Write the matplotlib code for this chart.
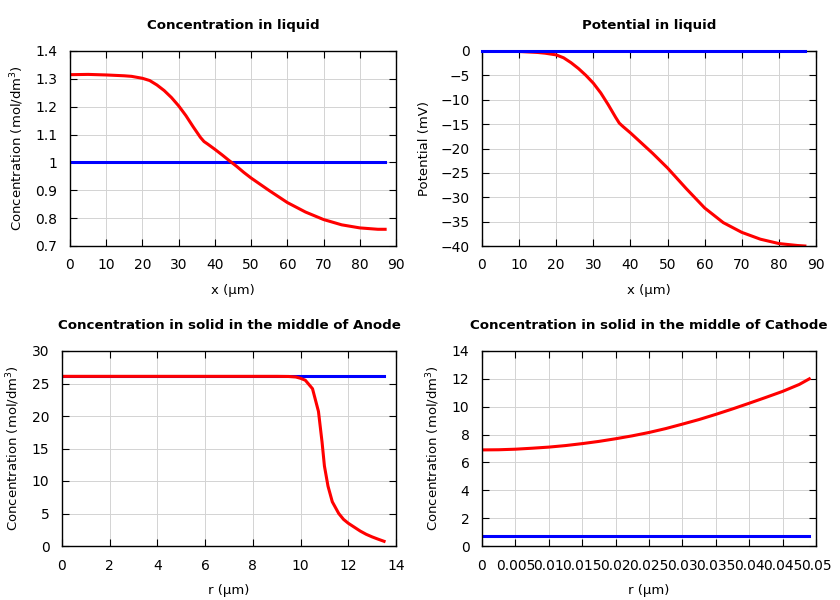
import matplotlib
matplotlib.use("Agg")
import matplotlib.pyplot as plt

# Concentration in liquid
x_liq = [0, 5, 10, 15, 17, 20, 22, 24, 26, 28, 30, 32, 34, 36, 37, 38, 40, 42, 44, 46, 48, 50,
         55, 60, 65, 70, 75, 80, 85, 87]
c_liq_red = [1.315, 1.316, 1.314, 1.311, 1.309, 1.302, 1.294, 1.278, 1.258, 1.233, 1.203, 1.168,
             1.128, 1.09, 1.075, 1.066, 1.047, 1.027, 1.006, 0.986, 0.964, 0.944,
             0.899, 0.856, 0.822, 0.795, 0.776, 0.765, 0.76, 0.76]
c_liq_blue = [1.0] * len(x_liq)

# Potential in liquid
phi_red = [0, -0.05, -0.1, -0.3, -0.45, -0.8, -1.4, -2.4, -3.6, -5.0, -6.6, -8.6,
           -11.0, -13.6, -14.8, -15.5, -16.8, -18.2, -19.6, -21.0, -22.5, -24.0,
           -28.2, -32.2, -35.2, -37.2, -38.6, -39.5, -39.9, -40.0]
phi_blue = [0.0] * len(x_liq)

# Anode solid
r_an = [0.05, 2, 4, 6, 8, 9, 9.5, 9.8, 10.0, 10.2, 10.5, 10.75, 10.9, 11.0, 11.15, 11.33, 11.6,
        11.8, 12.0, 12.25, 12.5, 12.75, 13.0, 13.25, 13.5]
c_an_red = [26.1, 26.1, 26.1, 26.1, 26.1, 26.1, 26.08, 26.0, 25.8, 25.5, 24.2, 20.7, 16.0, 12.3,
            9.2, 6.8, 5.0, 4.1, 3.5, 2.9, 2.3, 1.8, 1.4, 1.05, 0.72]
c_an_blue = [26.1] * len(r_an)

# Cathode solid
r_ca = [0.0002, 0.0025, 0.005, 0.0075, 0.01, 0.0125, 0.015, 0.0175, 0.02, 0.0225, 0.025, 0.0275,
        0.03, 0.0325, 0.035, 0.0375, 0.04, 0.0425, 0.045, 0.0475, 0.049]
c_ca_red = [6.9, 6.91, 6.95, 7.02, 7.1, 7.21, 7.35, 7.51, 7.7, 7.91, 8.15, 8.43,
            8.75, 9.08, 9.45, 9.84, 10.25, 10.67, 11.1, 11.6, 12.0]
c_ca_blue = [0.75] * len(r_ca)

fig = plt.figure(figsize=(8.4, 6.0), dpi=100)

def px(l, t, r, b):
    return [l / 840, 1 - b / 600, (r - l) / 840, (b - t) / 600]

def style(ax, title, xlabel, ylabel):
    ax.set_title(title, fontsize=9.6, fontweight="bold", pad=15.5)
    ax.set_xlabel(xlabel, fontsize=9.5, labelpad=8)
    ax.set_ylabel(ylabel, fontsize=9.5, labelpad=7)
    ax.grid(True, color="#d3d3d3", linewidth=0.7)
    ax.set_axisbelow(True)
    ax.tick_params(direction="in", top=True, right=True, labelsize=10, pad=9, length=5)
    for s in ax.spines.values():
        s.set_linewidth(1.0)

ylab_conc = "Concentration (mol/dm$^3$)"

ax1 = fig.add_axes(px(70, 51, 396, 246))
ax1.plot(x_liq, c_liq_blue, color="#0000ff", lw=2.2)
ax1.plot(x_liq, c_liq_red, color="#ff0000", lw=2.2)
ax1.set_xlim(0, 90); ax1.set_ylim(0.7, 1.4)
ax1.set_xticks(range(0, 91, 10))
ax1.set_yticks([0.7, 0.8, 0.9, 1.0, 1.1, 1.2, 1.3, 1.4])
ax1.set_yticklabels(["0.7", "0.8", "0.9", "1", "1.1", "1.2", "1.3", "1.4"])
style(ax1, "Concentration in liquid", "x (µm)", ylab_conc)

ax2 = fig.add_axes(px(482, 51, 816, 246))
ax2.plot(x_liq, phi_red, color="#ff0000", lw=2.2)
ax2.plot(x_liq, phi_blue, color="#0000ff", lw=2.2, clip_on=False, zorder=3)
ax2.set_xlim(0, 90); ax2.set_ylim(-40, 0)
ax2.set_xticks(range(0, 91, 10))
ax2.set_yticks(range(-40, 1, 5))
style(ax2, "Potential in liquid", "x (µm)", "Potential (mV)")

ax3 = fig.add_axes(px(62, 351, 396, 546))
ax3.plot(r_an, c_an_blue, color="#0000ff", lw=2.2)
ax3.plot(r_an, c_an_red, color="#ff0000", lw=2.2)
ax3.set_xlim(0, 14); ax3.set_ylim(0, 30)
ax3.set_xticks(range(0, 15, 2))
ax3.set_yticks(range(0, 31, 5))
style(ax3, "Concentration in solid in the middle of Anode", "r (µm)", ylab_conc)

ax4 = fig.add_axes(px(482, 351, 816, 546))
ax4.plot(r_ca, c_ca_blue, color="#0000ff", lw=2.2)
ax4.plot(r_ca, c_ca_red, color="#ff0000", lw=2.2)
ax4.set_xlim(0, 0.05); ax4.set_ylim(0, 14)
xt = [0, 0.005, 0.01, 0.015, 0.02, 0.025, 0.03, 0.035, 0.04, 0.045, 0.05]
ax4.set_xticks(xt)
ax4.set_xticklabels(["0", "0.005", "0.01", "0.015", "0.02", "0.025", "0.03", "0.035", "0.04", "0.045", "0.05"])
ax4.set_yticks(range(0, 15, 2))
style(ax4, "Concentration in solid in the middle of Cathode", "r (µm)", ylab_conc)

fig.savefig("out.png", dpi=100)
